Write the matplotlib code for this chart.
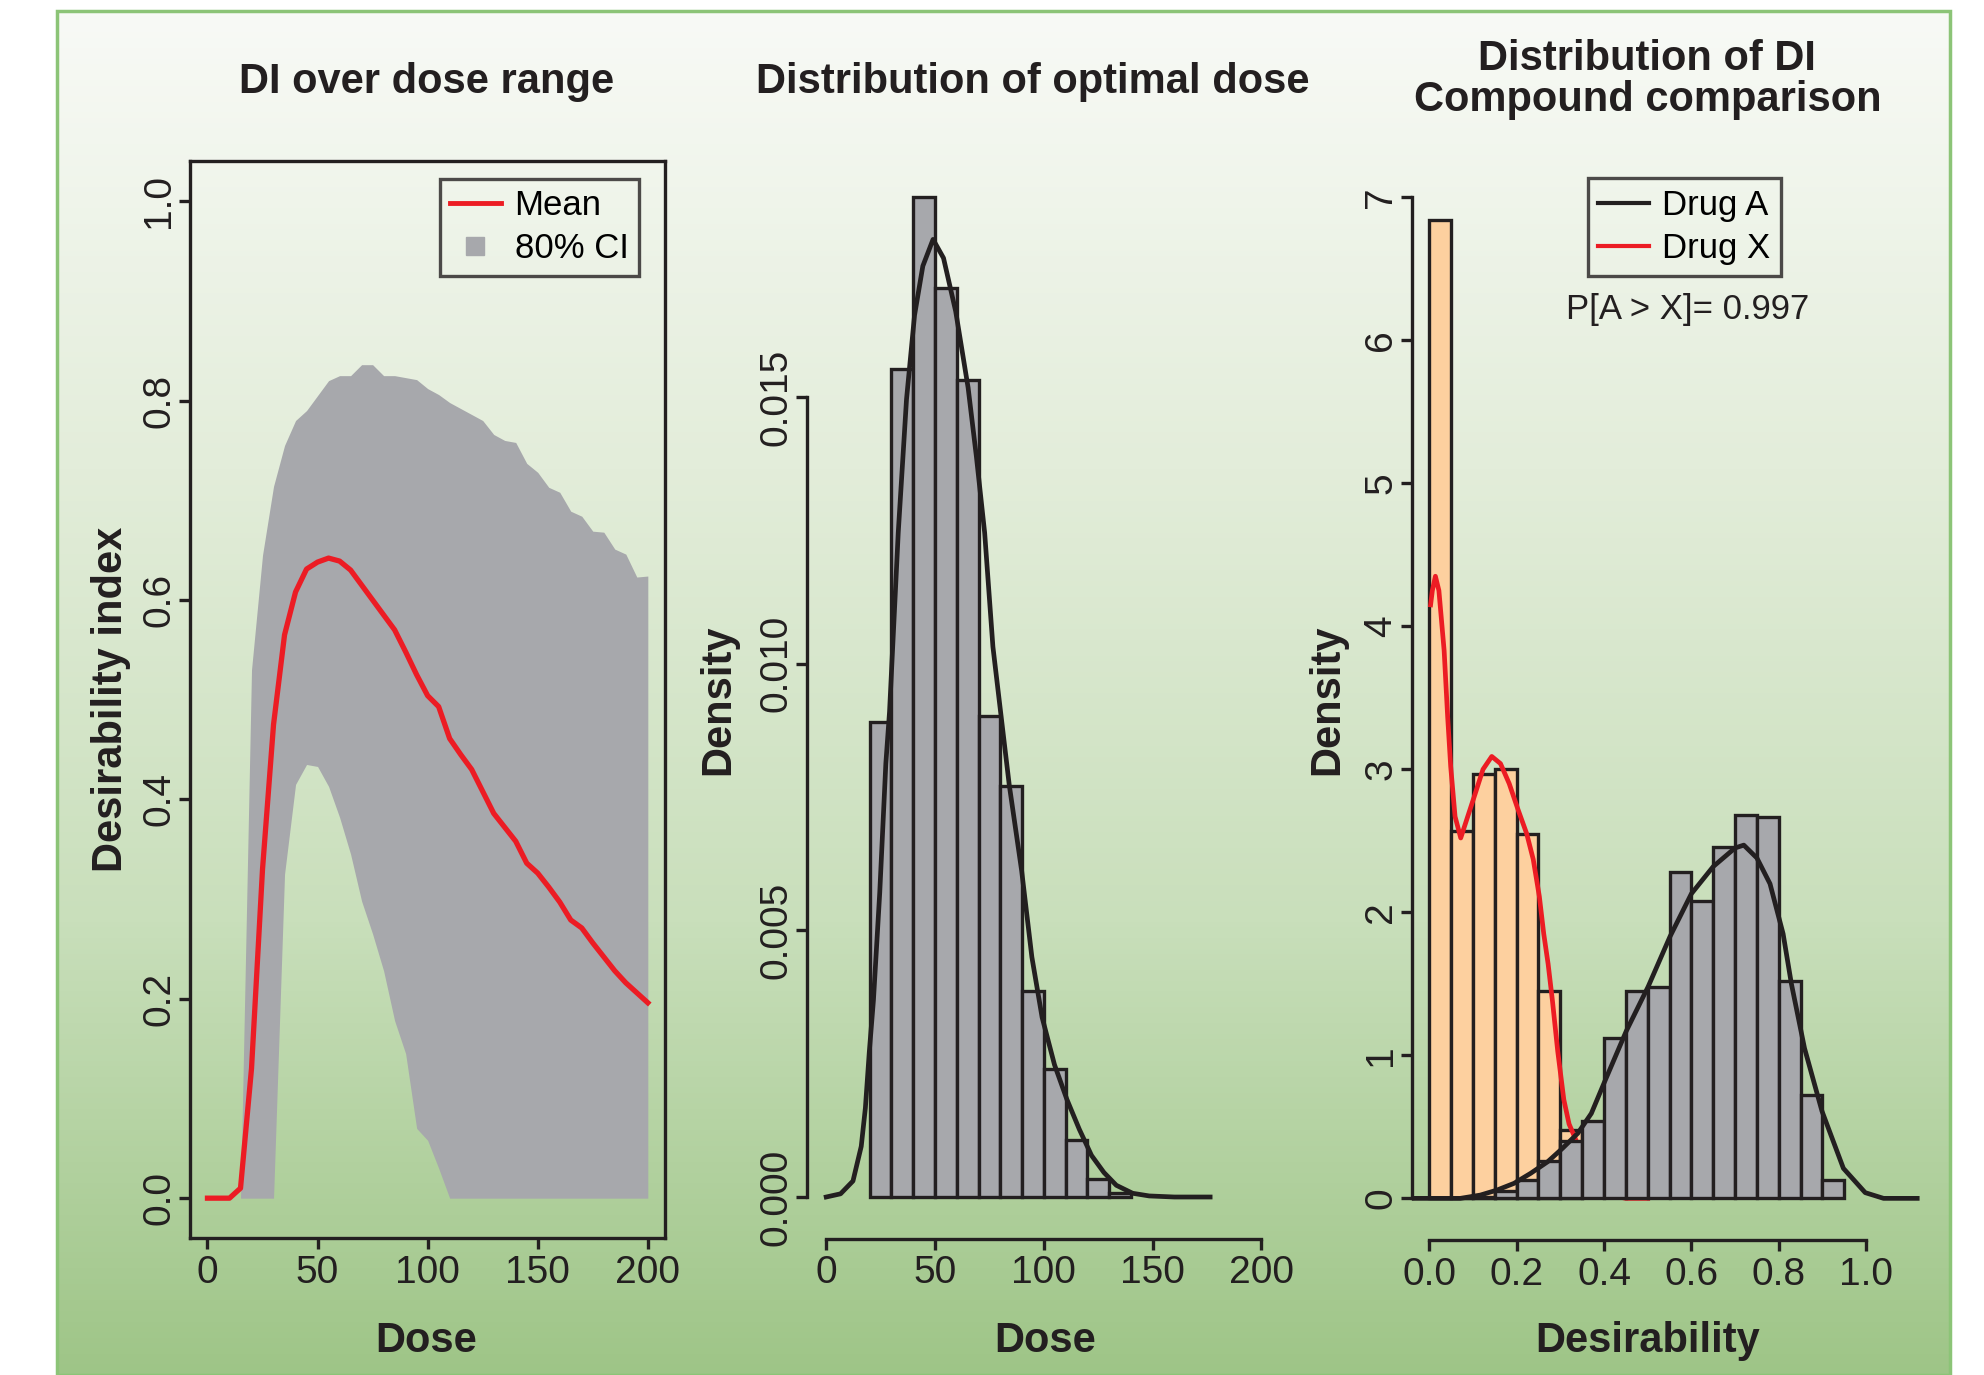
import numpy as np
import matplotlib
matplotlib.use("Agg")
import matplotlib.pyplot as plt
from matplotlib.lines import Line2D
from matplotlib.patches import Rectangle
from matplotlib.colors import LinearSegmentedColormap

plt.rcParams['font.family'] = ['Liberation Sans', 'DejaVu Sans']

# ---- panel 1: DI over dose range
dose = np.arange(0, 205, 5)
di_mean = [0, 0, 0, 0.01, 0.13, 0.33, 0.475, 0.565, 0.608, 0.631, 0.638, 0.642, 0.639,
           0.630, 0.615, 0.600, 0.585, 0.570, 0.548, 0.525, 0.504, 0.493, 0.461, 0.445,
           0.430, 0.408, 0.386, 0.372, 0.358, 0.336, 0.326, 0.312, 0.297, 0.279, 0.271,
           0.256, 0.242, 0.228, 0.216, 0.206, 0.196]
di_hi = [0, 0, 0, 0, 0.53, 0.645, 0.714, 0.755, 0.78, 0.79, 0.805, 0.82, 0.825, 0.825,
         0.836, 0.836, 0.825, 0.825, 0.823, 0.821, 0.812, 0.806, 0.798, 0.792, 0.786,
         0.78, 0.766, 0.76, 0.758, 0.737, 0.728, 0.713, 0.708, 0.689, 0.684, 0.669,
         0.668, 0.651, 0.646, 0.623, 0.624]
di_lo = [0, 0, 0, 0, 0, 0, 0, 0.325, 0.415, 0.435, 0.433, 0.413, 0.382, 0.345, 0.298,
         0.265, 0.228, 0.178, 0.145, 0.07, 0.058, 0.03, 0] + [0] * 18

# ---- panel 2: distribution of optimal dose
opt_edges = np.arange(20, 150, 10)
opt_dens = [0.0089, 0.01552, 0.01875, 0.01704, 0.01533, 0.00902, 0.00771, 0.00387,
            0.0024, 0.00107, 0.00033, 0.00007]
opt_kde_x = [0, 6.6, 12.3, 16.1, 18, 19.8, 21.7, 24.6, 27.4, 29.1, 33.1, 36.9, 40.6, 44.4,
             49.1, 53.9, 59.5, 65.2, 69.0, 72.8, 76.6, 79.4, 84.1, 89.8, 94.5, 99.2, 104.9,
             110.6, 116.3, 121.9, 127.6, 133.3, 140.8, 148.4, 160, 176.4]
opt_kde_y = [0, 0.00006, 0.0003, 0.00095, 0.00167, 0.00272, 0.00369, 0.00571, 0.00813,
             0.0091, 0.01246, 0.01496, 0.01654, 0.01746, 0.01796, 0.01761, 0.01661, 0.01518,
             0.01389, 0.01246, 0.01032, 0.00935, 0.00773, 0.00612, 0.0045, 0.00337, 0.00248,
             0.00183, 0.00127, 0.00078, 0.00046, 0.00022, 0.00007, 0.00002, 0, 0]

# ---- panel 3: distribution of DI, compound comparison
di_bin = 0.05
drugx_edges = np.arange(0, 0.35, di_bin)
drugx_hist = [6.84, 2.57, 2.97, 3.0, 2.55, 1.45, 0.48]
druga_edges = np.arange(0, 0.95, di_bin)
druga_hist = [0, 0, 0.01, 0.05, 0.13, 0.26, 0.40, 0.54, 1.12, 1.45, 1.48, 2.28, 2.08,
              2.46, 2.68, 2.67, 1.52, 0.72, 0.13]
drugx_kde_x = [0.003, 0.007, 0.014, 0.022, 0.034, 0.042, 0.049, 0.059, 0.072, 0.088, 0.103,
               0.123, 0.143, 0.163, 0.183, 0.203, 0.223, 0.238, 0.252, 0.262, 0.272, 0.282,
               0.294, 0.308, 0.320, 0.334, 0.36, 0.39, 0.42, 0.45, 0.50]
drugx_kde_y = [4.15, 4.25, 4.35, 4.25, 3.83, 3.37, 3.02, 2.67, 2.52, 2.67, 2.81, 3.0, 3.09,
               3.04, 2.90, 2.72, 2.55, 2.37, 2.11, 1.85, 1.64, 1.38, 1.03, 0.69, 0.52, 0.42,
               0.22, 0.08, 0.02, 0.0, 0.0]
druga_kde_x = [-0.05, 0.071, 0.117, 0.155, 0.194, 0.232, 0.271, 0.305, 0.34, 0.371, 0.402,
               0.451, 0.501, 0.551, 0.60, 0.65, 0.70, 0.72, 0.75, 0.78, 0.81, 0.829, 0.859,
               0.899, 0.948, 0.998, 1.04, 1.117]
druga_kde_y = [0, 0.0, 0.023, 0.058, 0.105, 0.175, 0.256, 0.35, 0.455, 0.594, 0.82, 1.17,
               1.48, 1.83, 2.13, 2.32, 2.45, 2.47, 2.38, 2.2, 1.85, 1.50, 1.05, 0.61, 0.21,
               0.04, 0.0, 0.0]
p_text = "P[A > X]= 0.997"

RED = '#ec1c24'
GREY = '#a7a8ac'
ORANGE = '#fdd09f'
INK = '#231f20'
LW = 2.4
TICK = 28

W, H = 1984, 1375
fig = plt.figure(figsize=(W / 100, H / 100), dpi=100)

# green gradient panel behind everything
bg = fig.add_axes([57 / W, 0, (1950 - 57) / W, 1 - 11 / H], zorder=-10)
cmap = LinearSegmentedColormap.from_list('bg', ['#f8faf6', '#e3edda', '#c9dfbb', '#9ec587'])
bg.imshow(np.linspace(0, 1, 256)[:, None], aspect='auto', cmap=cmap, extent=[0, 1, 0, 1])
bg.add_patch(Rectangle((0, 0), 1, 1, transform=bg.transAxes, fill=False,
                       ec='#8cc477', lw=2.5, clip_on=False))
bg.set_axis_off()


def style(ax):
    ax.set_facecolor('none')
    ax.tick_params(axis='both', direction='out', length=8, width=LW, labelsize=TICK,
                   colors=INK)
    ax.tick_params(axis='x', pad=4)
    ax.tick_params(axis='y', pad=1, labelrotation=90)
    for lbl in ax.get_yticklabels():
        lbl.set_va('center')
    for s in ax.spines.values():
        s.set_linewidth(LW)
        s.set_color(INK)


# panel 1
ax1 = fig.add_axes([0.0957, 0.0996, 0.2397, 0.7831])
ax1.fill_between(dose, di_lo, di_hi, color=GREY, lw=0)
ax1.plot(dose, di_mean, color=RED, lw=3.8)
ax1.set_xlim(-8, 208)
ax1.set_ylim(-0.04, 1.04)
ax1.set_xticks([0, 50, 100, 150, 200])
ax1.set_yticks([0, 0.2, 0.4, 0.6, 0.8, 1.0])
ax1.set_yticklabels(['0.0', '0.2', '0.4', '0.6', '0.8', '1.0'])
style(ax1)
h1 = [Line2D([], [], color=RED, lw=3.5),
      Line2D([], [], ls='none', marker='s', ms=13, color=GREY, mec=GREY)]
leg1 = ax1.legend(h1, ['Mean', '80% CI'], loc='upper right', bbox_to_anchor=(0.944, 0.984),
                  fontsize=25, frameon=True, fancybox=False, borderaxespad=0,
                  handlelength=1.45, handletextpad=0.4, borderpad=0.3, labelspacing=0.3)
leg1.get_frame().set_linewidth(LW)
leg1.get_frame().set_edgecolor(INK)
leg1.get_frame().set_facecolor('none')

# panel 2
ax2 = fig.add_axes([0.4070, 0.0992, 0.2376, 0.7903])
ax2.bar(opt_edges[:-1], opt_dens, width=10, align='edge', color=GREY, ec=INK, lw=LW)
ax2.plot(opt_kde_x, opt_kde_y, color=INK, lw=3.4)
ax2.set_xlim(-8.6, 208)
ax2.set_ylim(-0.00078, 0.0196)
ax2.set_xticks([0, 50, 100, 150, 200])
ax2.set_yticks([0, 0.005, 0.010, 0.015])
ax2.set_yticklabels(['0.000', '0.005', '0.010', '0.015'])
style(ax2)
ax2.spines['top'].set_visible(False)
ax2.spines['right'].set_visible(False)
ax2.spines['bottom'].set_bounds(0, 200)
ax2.spines['left'].set_bounds(0, 0.015)

# panel 3
ax3 = fig.add_axes([0.7116, 0.0983, 0.2642, 0.8092])
ax3.bar(drugx_edges, drugx_hist, width=di_bin, align='edge', color=ORANGE, ec=INK, lw=LW,
        zorder=2)
ax3.plot(drugx_kde_x, drugx_kde_y, color=RED, lw=3.4, zorder=3)
ax3.bar(druga_edges, druga_hist, width=di_bin, align='edge', color=GREY, ec=INK, lw=LW,
        zorder=4)
ax3.plot(druga_kde_x, druga_kde_y, color=INK, lw=3.4, zorder=5)
ax3.set_xlim(-0.04, 1.16)
ax3.set_ylim(-0.29, 7.49)
ax3.set_xticks([0, 0.2, 0.4, 0.6, 0.8, 1.0])
ax3.set_xticklabels(['0.0', '0.2', '0.4', '0.6', '0.8', '1.0'])
ax3.set_yticks(range(8))
style(ax3)
ax3.spines['top'].set_visible(False)
ax3.spines['right'].set_visible(False)
ax3.spines['bottom'].set_bounds(0, 1)
ax3.spines['left'].set_bounds(0, 7)
h3 = [Line2D([], [], color=INK, lw=3), Line2D([], [], color=RED, lw=3)]
leg3 = ax3.legend(h3, ['Drug A', 'Drug X'], loc='upper center', bbox_to_anchor=(0.52, 0.954),
                  fontsize=25, frameon=True, fancybox=False, borderaxespad=0,
                  handlelength=1.45, handletextpad=0.4, borderpad=0.3, labelspacing=0.3)
leg3.get_frame().set_linewidth(LW)
leg3.get_frame().set_edgecolor(INK)
leg3.get_frame().set_facecolor('none')
ax3.text(0.526, 0.836, p_text, transform=ax3.transAxes, ha='center', va='center',
         fontsize=25, color=INK)

# titles and axis labels
tkw = dict(fontsize=30, fontweight='bold', color=INK, ha='center', va='center')
fig.text(0.2149, 0.940, 'DI over dose range', **tkw)
fig.text(0.5204, 0.940, 'Distribution of optimal dose', **tkw)
fig.text(0.8303, 0.957, 'Distribution of DI', **tkw)
fig.text(0.8303, 0.927, 'Compound comparison', **tkw)

lkw = dict(fontsize=30, fontweight='bold', color=INK, ha='center', va='center')
fig.text(0.2149, 0.0245, 'Dose', **lkw)
fig.text(0.5268, 0.0245, 'Dose', **lkw)
fig.text(0.8303, 0.0245, 'Desirability', **lkw)
fig.text(0.0561, 0.4911, 'Desirability index', rotation=90, **lkw)
fig.text(0.3622, 0.4911, 'Density', rotation=90, **lkw)
fig.text(0.6690, 0.4911, 'Density', rotation=90, **lkw)

fig.savefig('out.png', dpi=100)
